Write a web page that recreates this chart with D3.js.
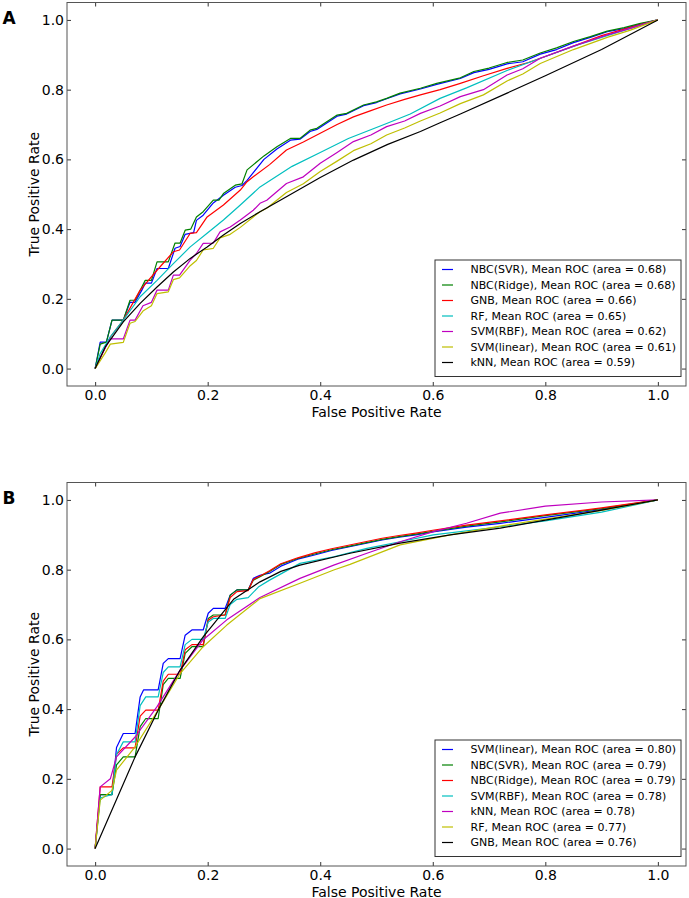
<!DOCTYPE html>
<html>
<head>
<meta charset="utf-8">
<script src="https://cdn.jsdelivr.net/npm/d3@7"></script>
<style>
  body { margin: 0; background: #fff; }
  svg { display: block; }
  text { font-family: "DejaVu Sans", sans-serif; fill: #000; }
</style>
</head>
<body>
<svg id="chart" width="689" height="898"></svg>
<script>
// ---------------- DATA ----------------
const tickValues = [0.0, 0.2, 0.4, 0.6, 0.8, 1.0];
const tickLabels = ["0.0", "0.2", "0.4", "0.6", "0.8", "1.0"];
const xLabel = "False Positive Rate";
const yLabel = "True Positive Rate";

// Panel A series
const namesA = ["NBC(SVR)", "NBC(Ridge)", "GNB", "RF", "SVM(RBF)", "SVM(linear)", "kNN"];
const aucA = ["0.68", "0.68", "0.66", "0.65", "0.62", "0.61", "0.59"];
const colorsA = ["#0000ff", "#008000", "#ff0000", "#00bfbf", "#bf00bf", "#bfbf00", "#000000"];

const a_nbcSvr = [[0,0],[0.009,0.076],[0.02,0.076],[0.03,0.139],[0.05,0.139],[0.062,0.19],[0.071,0.19],[0.083,0.225],[0.089,0.245],[0.1,0.245],[0.11,0.287],[0.13,0.287],[0.142,0.345],[0.151,0.35],[0.16,0.385],[0.175,0.39],[0.18,0.425],[0.192,0.44],[0.21,0.475],[0.228,0.497],[0.249,0.52],[0.261,0.525],[0.27,0.54],[0.28,0.56],[0.30,0.60],[0.323,0.63],[0.347,0.655],[0.364,0.658],[0.382,0.68],[0.394,0.686],[0.43,0.724],[0.447,0.73],[0.477,0.754],[0.5,0.763],[0.518,0.774],[0.542,0.788],[0.578,0.802],[0.607,0.815],[0.649,0.832],[0.673,0.849],[0.70,0.858],[0.732,0.874],[0.76,0.88],[0.791,0.902],[0.82,0.915],[0.85,0.935],[0.88,0.95],[0.91,0.966],[0.94,0.975],[0.969,0.988],[1,1]];
const a_nbcRidge = [[0,0],[0.009,0.07],[0.02,0.076],[0.03,0.139],[0.05,0.139],[0.062,0.196],[0.071,0.196],[0.083,0.234],[0.089,0.253],[0.1,0.253],[0.11,0.306],[0.13,0.306],[0.142,0.36],[0.151,0.36],[0.16,0.397],[0.17,0.40],[0.18,0.435],[0.192,0.45],[0.21,0.483],[0.22,0.483],[0.228,0.502],[0.249,0.526],[0.261,0.53],[0.27,0.57],[0.30,0.61],[0.323,0.636],[0.347,0.66],[0.364,0.66],[0.382,0.684],[0.394,0.689],[0.43,0.727],[0.447,0.732],[0.477,0.756],[0.5,0.765],[0.518,0.775],[0.542,0.79],[0.578,0.804],[0.607,0.818],[0.649,0.834],[0.673,0.852],[0.70,0.862],[0.732,0.878],[0.76,0.885],[0.791,0.905],[0.82,0.92],[0.85,0.938],[0.88,0.952],[0.91,0.968],[0.94,0.978],[0.969,0.99],[1,1]];
const a_gnb = [[0,0],[0.027,0.09],[0.05,0.139],[0.08,0.225],[0.11,0.282],[0.139,0.335],[0.15,0.34],[0.169,0.388],[0.18,0.39],[0.199,0.435],[0.228,0.469],[0.258,0.512],[0.27,0.536],[0.281,0.55],[0.31,0.585],[0.34,0.627],[0.37,0.65],[0.4,0.675],[0.43,0.70],[0.459,0.722],[0.49,0.74],[0.518,0.756],[0.55,0.772],[0.578,0.785],[0.613,0.80],[0.649,0.818],[0.69,0.84],[0.732,0.861],[0.77,0.878],[0.8,0.895],[0.85,0.925],[0.9,0.955],[0.95,0.978],[1,1]];
const a_rf = [[0,0],[0.009,0.043],[0.027,0.091],[0.05,0.139],[0.08,0.206],[0.11,0.253],[0.139,0.301],[0.169,0.349],[0.199,0.388],[0.228,0.426],[0.258,0.469],[0.293,0.521],[0.35,0.58],[0.4,0.62],[0.45,0.66],[0.518,0.703],[0.56,0.73],[0.613,0.775],[0.66,0.805],[0.732,0.855],[0.8,0.895],[0.86,0.93],[0.93,0.965],[1,1]];
const a_svmRbf = [[0,0],[0.018,0.06],[0.027,0.085],[0.05,0.085],[0.062,0.139],[0.071,0.139],[0.085,0.18],[0.1,0.19],[0.11,0.225],[0.13,0.225],[0.139,0.268],[0.15,0.268],[0.169,0.311],[0.18,0.33],[0.192,0.359],[0.21,0.36],[0.222,0.392],[0.24,0.406],[0.258,0.426],[0.281,0.454],[0.293,0.474],[0.305,0.483],[0.34,0.531],[0.37,0.55],[0.4,0.589],[0.43,0.62],[0.459,0.651],[0.49,0.67],[0.518,0.694],[0.55,0.71],[0.578,0.732],[0.613,0.753],[0.649,0.78],[0.69,0.80],[0.732,0.842],[0.76,0.86],[0.791,0.89],[0.85,0.925],[0.91,0.957],[0.95,0.975],[1,1]];
const a_svmLinear = [[0,0],[0.018,0.045],[0.027,0.07],[0.05,0.075],[0.062,0.13],[0.071,0.135],[0.085,0.165],[0.1,0.18],[0.11,0.215],[0.13,0.22],[0.139,0.255],[0.15,0.26],[0.169,0.295],[0.18,0.31],[0.192,0.34],[0.21,0.345],[0.222,0.375],[0.24,0.385],[0.258,0.405],[0.281,0.435],[0.293,0.45],[0.305,0.46],[0.34,0.505],[0.37,0.53],[0.4,0.565],[0.43,0.595],[0.459,0.625],[0.49,0.645],[0.518,0.67],[0.55,0.69],[0.578,0.71],[0.613,0.733],[0.649,0.76],[0.69,0.785],[0.732,0.825],[0.76,0.845],[0.791,0.875],[0.85,0.915],[0.91,0.95],[0.95,0.97],[1,1]];
const a_knn = [[0,0],[0.018,0.062],[0.05,0.134],[0.08,0.187],[0.11,0.234],[0.139,0.277],[0.169,0.316],[0.199,0.349],[0.228,0.383],[0.258,0.416],[0.293,0.45],[0.34,0.493],[0.4,0.548],[0.459,0.598],[0.52,0.643],[0.578,0.68],[0.613,0.705],[0.649,0.73],[0.732,0.79],[0.8,0.84],[0.9,0.915],[1,1]];

// Panel B series
const namesB = ["SVM(linear)", "NBC(SVR)", "NBC(Ridge)", "SVM(RBF)", "kNN", "RF", "GNB"];
const aucB = ["0.80", "0.79", "0.79", "0.78", "0.78", "0.77", "0.76"];
const colorsB = ["#0000ff", "#008000", "#ff0000", "#00bfbf", "#bf00bf", "#bfbf00", "#000000"];

const b_svmLinear = [[0,0],[0.009,0.155],[0.03,0.155],[0.038,0.29],[0.05,0.33],[0.071,0.33],[0.08,0.435],[0.086,0.455],[0.112,0.455],[0.121,0.531],[0.13,0.545],[0.151,0.545],[0.16,0.612],[0.172,0.627],[0.192,0.627],[0.201,0.675],[0.21,0.689],[0.231,0.689],[0.24,0.727],[0.252,0.742],[0.272,0.742],[0.281,0.775],[0.293,0.784],[0.31,0.79],[0.33,0.81],[0.36,0.83],[0.39,0.842],[0.42,0.855],[0.45,0.865],[0.48,0.875],[0.51,0.885],[0.54,0.893],[0.57,0.9],[0.60,0.908],[0.66,0.922],[0.72,0.933],[0.8,0.95],[0.9,0.972],[1,1]];
const b_nbcSvr = [[0,0],[0.009,0.155],[0.03,0.155],[0.038,0.24],[0.05,0.263],[0.071,0.263],[0.08,0.35],[0.09,0.373],[0.112,0.373],[0.121,0.47],[0.13,0.488],[0.151,0.488],[0.16,0.56],[0.172,0.579],[0.192,0.579],[0.201,0.66],[0.21,0.67],[0.231,0.67],[0.24,0.727],[0.252,0.742],[0.272,0.742],[0.281,0.77],[0.293,0.78],[0.31,0.795],[0.33,0.815],[0.36,0.832],[0.39,0.845],[0.42,0.857],[0.45,0.867],[0.48,0.877],[0.51,0.887],[0.54,0.895],[0.57,0.902],[0.6,0.91],[0.66,0.925],[0.72,0.937],[0.8,0.955],[0.9,0.975],[1,1]];
const b_nbcRidge = [[0,0],[0.009,0.177],[0.03,0.177],[0.038,0.27],[0.05,0.289],[0.071,0.289],[0.08,0.38],[0.09,0.397],[0.112,0.397],[0.121,0.48],[0.13,0.50],[0.151,0.50],[0.16,0.57],[0.172,0.585],[0.192,0.585],[0.201,0.655],[0.21,0.665],[0.231,0.67],[0.24,0.72],[0.252,0.737],[0.272,0.74],[0.281,0.772],[0.293,0.782],[0.31,0.797],[0.33,0.817],[0.36,0.834],[0.39,0.848],[0.42,0.86],[0.45,0.87],[0.48,0.88],[0.51,0.89],[0.54,0.898],[0.57,0.905],[0.6,0.913],[0.66,0.928],[0.72,0.94],[0.8,0.957],[0.9,0.977],[1,1]];
const b_svmRbf = [[0,0],[0.009,0.145],[0.03,0.155],[0.038,0.27],[0.05,0.306],[0.071,0.306],[0.08,0.41],[0.09,0.435],[0.112,0.435],[0.121,0.505],[0.13,0.521],[0.151,0.521],[0.16,0.585],[0.172,0.60],[0.192,0.60],[0.201,0.65],[0.21,0.66],[0.231,0.66],[0.24,0.70],[0.252,0.715],[0.272,0.72],[0.29,0.75],[0.31,0.77],[0.364,0.818],[0.424,0.837],[0.483,0.861],[0.542,0.88],[0.601,0.9],[0.72,0.923],[0.8,0.94],[0.9,0.965],[1,1]];
const b_knn = [[0,0],[0.009,0.177],[0.027,0.2],[0.038,0.263],[0.071,0.32],[0.11,0.407],[0.151,0.512],[0.192,0.599],[0.234,0.656],[0.293,0.72],[0.364,0.775],[0.424,0.813],[0.483,0.847],[0.542,0.88],[0.601,0.909],[0.66,0.933],[0.72,0.962],[0.8,0.982],[0.9,0.994],[1,1]];
const b_rf = [[0,0],[0.009,0.139],[0.03,0.167],[0.038,0.225],[0.071,0.292],[0.11,0.392],[0.151,0.502],[0.192,0.579],[0.234,0.641],[0.293,0.717],[0.364,0.761],[0.424,0.799],[0.453,0.815],[0.542,0.871],[0.631,0.9],[0.72,0.925],[0.8,0.945],[0.9,0.97],[1,1]];
const b_gnb = [[0,0],[0.071,0.263],[0.112,0.397],[0.151,0.512],[0.192,0.607],[0.246,0.715],[0.293,0.765],[0.33,0.795],[0.364,0.813],[0.453,0.847],[0.542,0.876],[0.631,0.9],[0.72,0.919],[0.8,0.942],[0.9,0.971],[1,1]];

const seriesA = [a_nbcSvr, a_nbcRidge, a_gnb, a_rf, a_svmRbf, a_svmLinear, a_knn];
const seriesB = [b_svmLinear, b_nbcSvr, b_nbcRidge, b_svmRbf, b_knn, b_rf, b_gnb];

// ---------------- DRAWING ----------------
const svg = d3.select("#chart");

function panel(opts) {
  const { top, bottom, letter, letterY, names, aucs, colors, series, legTop } = opts;
  const left = 67, right = 686;
  const x = d3.scaleLinear().domain([-0.05, 1.05]).range([left, right]);
  const y = d3.scaleLinear().domain([-0.05, 1.05]).range([bottom, top]);
  const g = svg.append("g");

  // curves
  const line = d3.line().x(d => x(d[0])).y(d => y(d[1]));
  series.forEach((s, i) => {
    g.append("path").datum(s).attr("d", line)
      .attr("fill", "none").attr("stroke", colors[i])
      .attr("stroke-width", 1.2).attr("stroke-linejoin", "round");
  });

  const fmt = (d) => tickLabels[tickValues.indexOf(d)];
  const ax = g.append("g").attr("transform", `translate(0,${bottom})`)
    .call(d3.axisBottom(x).tickValues(tickValues).tickFormat(fmt).tickSizeInner(-4).tickSizeOuter(0).tickPadding(4));
  const ay = g.append("g").attr("transform", `translate(${left},0)`)
    .call(d3.axisLeft(y).tickValues(tickValues).tickFormat(fmt).tickSizeInner(-4).tickSizeOuter(0).tickPadding(3));
  const at = g.append("g").attr("transform", `translate(0,${top})`)
    .call(d3.axisTop(x).tickValues(tickValues).tickFormat("").tickSizeInner(-4).tickSizeOuter(0));
  const ar = g.append("g").attr("transform", `translate(${right},0)`)
    .call(d3.axisRight(y).tickValues(tickValues).tickFormat("").tickSizeInner(-4).tickSizeOuter(0));
  [ax, ay, at, ar].forEach(a => {
    a.select(".domain").remove();
    a.selectAll(".tick line").attr("stroke", "#000").attr("stroke-width", 0.8);
    a.selectAll(".tick text").attr("font-family", "DejaVu Sans, sans-serif").attr("font-size", 14).attr("fill", "#000");
  });

  // frame
  g.append("rect").attr("x", left).attr("y", top).attr("width", right - left).attr("height", bottom - top)
    .attr("fill", "none").attr("stroke", "#555").attr("stroke-width", 1);

  // axis labels
  g.append("text").attr("x", (x(0) + x(1)) / 2).attr("y", bottom + 30.5)
    .attr("text-anchor", "middle").attr("font-size", 14).text(xLabel);
  g.append("text").attr("transform", `translate(39,${(top + bottom) / 2}) rotate(-90)`)
    .attr("text-anchor", "middle").attr("font-size", 14).text(yLabel);

  // panel letter
  g.append("text").attr("x", 2.5).attr("y", letterY).attr("font-size", 17).attr("font-weight", "bold").text(letter);

  // legend
  const legLeft = 435, legRight = 681, rowH = 15.5;
  const legBottom = legTop + 116.5;
  g.append("rect").attr("x", legLeft).attr("y", legTop).attr("width", legRight - legLeft).attr("height", legBottom - legTop)
    .attr("fill", "#fff").attr("stroke", "#333").attr("stroke-width", 1);
  names.forEach((n, i) => {
    const cy = legTop + 9.5 + i * rowH;
    g.append("line").attr("x1", 442).attr("x2", 453).attr("y1", cy).attr("y2", cy)
      .attr("stroke", colors[i]).attr("stroke-width", 1.2);
    g.append("text").attr("x", 470.5).attr("y", cy).attr("dy", "0.35em").attr("font-size", 11)
      .text(`${n}, Mean ROC (area = ${aucs[i]})`);
  });
}

panel({ top: 2.5, bottom: 386, letter: "A", letterY: 24, names: namesA, aucs: aucA, colors: colorsA, series: seriesA, legTop: 260 });
panel({ top: 482.5, bottom: 866, letter: "B", letterY: 503.5, names: namesB, aucs: aucB, colors: colorsB, series: seriesB, legTop: 740 });
</script>
</body>
</html>
